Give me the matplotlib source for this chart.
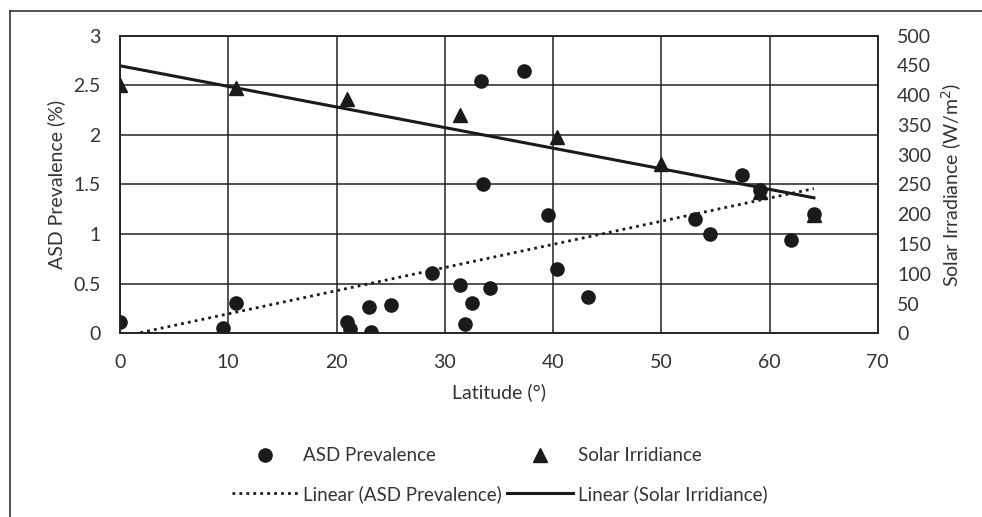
import numpy as np
import matplotlib.pyplot as plt
from matplotlib.lines import Line2D

plt.rcParams['font.family'] = ['Lato', 'DejaVu Sans']

# ── Data ─────────────────────────────────────────────────────────────────────
asd_lat = [0, 10.7, 9.5, 21.0, 21.2, 23.0, 23.2, 25.0, 28.8, 31.4, 32.5, 31.9,
           34.2, 33.3, 37.3, 33.5, 39.5, 40.4, 43.2, 53.1, 54.5, 57.5, 59.1,
           62.0, 64.1]
asd_prev = [0.11, 0.31, 0.05, 0.11, 0.04, 0.27, 0.01, 0.29, 0.61, 0.49, 0.31,
            0.09, 0.46, 2.54, 2.64, 1.50, 1.19, 0.65, 0.37, 1.15, 1.00, 1.60,
            1.44, 0.94, 1.20]

sol_lat = [0, 10.7, 21.0, 31.4, 40.4, 50.0, 59.1, 64.1]
sol_irr = [417, 412, 394, 366, 329, 284, 238, 198]

TXT = '#333333'
LINE = '#222222'
FS = 14

fig = plt.figure(figsize=(9.82, 5.17), dpi=100)
ax = fig.add_axes([0.1222, 0.3553, 0.7717, 0.5757])
ax2 = ax.twinx()

# scatter
ax.plot(asd_lat, asd_prev, 'o', color='#1a1a1a', markersize=9.5, zorder=3)
ax2.plot(sol_lat, sol_irr, '^', color='#1a1a1a', markersize=9.5, zorder=3)

# linear trendlines (least squares, like Excel)
b1, a1 = np.polyfit(asd_lat, asd_prev, 1)
xs = np.array([min(asd_lat), max(asd_lat)])
ax.plot(xs, a1 + b1 * xs, color='#1a1a1a', lw=2.0, linestyle=(0, (1, 1.5)),
        zorder=2)
b2, a2 = np.polyfit(sol_lat, sol_irr, 1)
xs2 = np.array([min(sol_lat), max(sol_lat)])
ax2.plot(xs2, a2 + b2 * xs2, color='#1a1a1a', lw=2.2, zorder=2)

ax.set_xlim(0, 70)
ax.set_ylim(0, 3)
ax2.set_ylim(0, 500)
ax.set_xticks(np.arange(0, 71, 10))
ax.set_yticks(np.arange(0, 3.01, 0.5))
ax.set_yticklabels(['0', '0.5', '1', '1.5', '2', '2.5', '3'])
ax2.set_yticks(np.arange(0, 501, 50))

ax.grid(True, color=LINE, lw=1.1)
ax.set_axisbelow(True)
for a in (ax, ax2):
    for s in a.spines.values():
        s.set_color(LINE)
        s.set_linewidth(1.1)
    a.tick_params(length=0, labelsize=FS, colors=TXT, pad=14)
ax.tick_params(axis='x', pad=15)

ax.set_xlabel('Latitude (°)', fontsize=FS, color=TXT, labelpad=9)
ax.set_ylabel('ASD Prevalence (%)', fontsize=FS, color=TXT, labelpad=6)
ax2.set_ylabel('Solar Irradiance (W/m$^2$)', fontsize=FS, color=TXT, labelpad=6)

handles = [
    Line2D([], [], marker='o', ls='none', color='#1a1a1a', markersize=9.5),
    Line2D([], [], color='#1a1a1a', lw=2.0, ls=(0, (1, 1.5))),
    Line2D([], [], marker='^', ls='none', color='#1a1a1a', markersize=9.5),
    Line2D([], [], color='#1a1a1a', lw=2.2),
]
labels = ['ASD Prevalence', 'Linear (ASD Prevalence)',
          'Solar Irridiance', 'Linear (Solar Irridiance)']
fig.legend(handles, labels, ncol=2, loc='center', bbox_to_anchor=(0.509, 0.081),
           frameon=False, fontsize=13.5, handlelength=3.5, handletextpad=0.27,
           columnspacing=0.27, labelspacing=1.1, labelcolor=TXT)

# outer chart border
fig.add_artist(Line2D([10 / 982, 10 / 982], [0, 1 - 10.7 / 517],
                      transform=fig.transFigure, color='#333333', lw=1.2))
fig.add_artist(Line2D([10 / 982, 1], [1 - 10.7 / 517, 1 - 10.7 / 517],
                      transform=fig.transFigure, color='#333333', lw=1.2))

fig.savefig('out.png', dpi=100)
